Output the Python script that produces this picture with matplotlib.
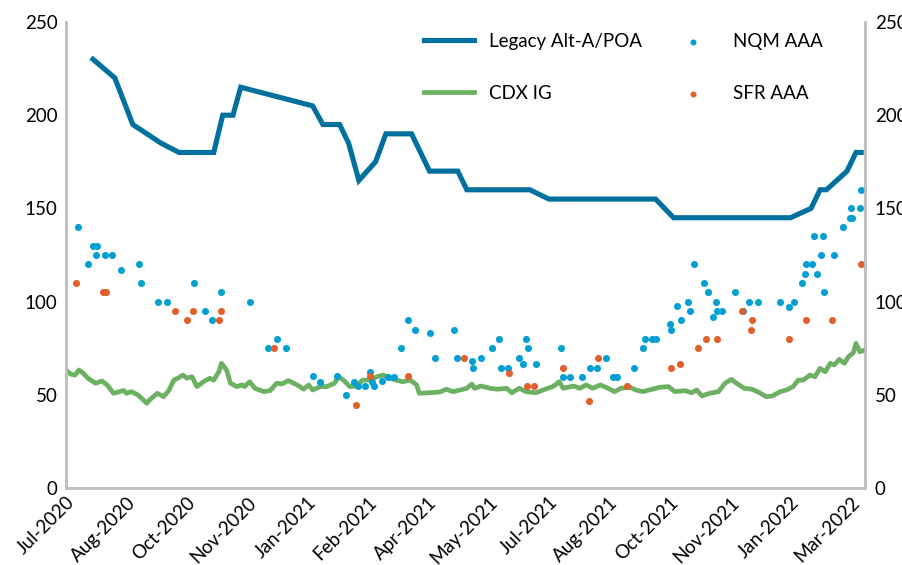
import matplotlib.pyplot as plt
import matplotlib.dates as mdates
import numpy as np
import pandas as pd

plt.rcParams['font.family'] = ['Lato', 'DejaVu Sans']

start = pd.Timestamp('2020-07-01')  # 起始日期, 下面的日期都是距它的天数

# Legacy Alt-A/POA 折线拐点
legacy_day = [21, 38, 52, 74, 88, 115, 122, 130, 136, 192, 200, 213, 220, 228,
              241, 249, 269, 283, 305, 312, 361, 376, 459, 473, 564, 580, 587,
              592, 608, 615, 619]
legacy_val = [230, 220, 195, 185, 180, 180, 200, 200, 215, 205, 195, 195, 185, 165,
              175, 190, 190, 170, 170, 160, 160, 155, 155, 145, 145, 150, 160,
              160, 170, 180, 180]

# CDX IG 读数
cdx_day = [0, 4, 7, 10, 13, 17, 23, 28, 32, 37, 45, 47, 51, 56, 63, 65, 71, 76,
           80, 84, 87, 91, 94, 98, 102, 107, 112, 115, 119, 121, 125, 128, 133,
           137, 139, 143, 147, 154, 159, 164, 168, 173, 180, 185, 189, 192, 198,
           203, 209, 212, 216, 221, 226, 231, 237, 242, 247, 252, 257, 262, 268,
           273, 275, 283, 291, 296, 301, 307, 312, 316, 318, 323, 330, 336, 343,
           347, 353, 358, 366, 373, 379, 384, 387, 395, 400, 405, 410, 416, 422,
           427, 432, 439, 444, 449, 454, 462, 469, 474, 482, 487, 491, 495, 501,
           508, 513, 518, 522, 528, 534, 540, 545, 550, 556, 561, 566, 570, 574,
           579, 583, 587, 591, 595, 598, 602, 606, 609, 613, 615, 618, 622]
cdx_val = [63.1, 61, 60.6, 63.3, 61.9, 58.9, 56.2, 57.4, 55.3, 50.8, 52.3, 50.8,
           51.7, 49.9, 45.5, 47.2, 50.8, 49, 52.3, 57.9, 58.9, 60.6, 58.9, 59.7,
           54.4, 57, 58.9, 57.9, 62.4, 66.9, 63.3, 56.2, 54.4, 55.3, 54.4, 57,
           53.5, 51.7, 52.3, 56.2, 55.8, 57.6, 55.3, 53, 55.3, 52.6, 54.4, 54.4,
           56.2, 59.7, 57.9, 54.4, 54.7, 57.9, 57.9, 59.7, 60.6, 58.9, 57.9, 57,
           57.9, 55.3, 50.8, 51.1, 51.5, 53, 51.7, 52.6, 53.5, 55.8, 53.5, 54.7,
           53.5, 53, 53.5, 51.1, 53.5, 51.7, 51.1, 53, 54.4, 57, 53.5, 54.7, 53.5,
           55.3, 53.5, 55.3, 53.5, 51.7, 53.5, 54, 52.5, 51.7, 52.6, 54, 54.4,
           51.7, 52.2, 51.1, 52.6, 49.4, 50.8, 51.7, 56.2, 58.3, 56.2, 53.5, 53,
           51.1, 49, 49.4, 51.7, 52.6, 54.4, 57.9, 57.9, 60.6, 59.7, 64.2, 62.4,
           66.9, 66, 69, 66.9, 70.4, 72.6, 77.6, 73.1, 74]

# NQM AAA 散点
nqm_day = [9, 17, 21, 24, 23, 30, 36, 43, 57, 58, 72, 79, 100, 108, 114, 121,
           143, 157, 164, 171, 192, 198, 211, 218, 224, 227, 233, 237, 238, 240,
           246, 251, 255, 261, 266, 272, 283, 287, 302, 304, 316, 317, 323, 332,
           337, 339, 344, 353, 356, 358, 360, 366, 385, 387, 392, 402, 408, 413,
           420, 426, 429, 442, 449, 451, 456, 459, 470, 471, 476, 479, 484, 486,
           489, 497, 500, 504, 506, 507, 511, 521, 527, 532, 539, 556, 563, 567,
           573, 575, 576, 581, 582, 585, 589, 588, 590, 598, 605, 610, 612, 611,
           618, 619]
nqm_val = [140, 120, 130, 130, 125, 125, 125, 117, 120, 110, 100, 100, 110, 95, 90, 105,
           100, 75, 80, 75, 60, 57, 60, 50, 57, 54.5, 54.5, 62, 57, 54.5,
           57.5, 59.5, 59.5, 75, 90, 85, 83, 70, 85, 70, 68, 64.5, 70, 75,
           80, 64.5, 64.5, 70, 66.5, 80, 75, 66.5, 75, 59.5, 59.5, 59.5, 64.5, 64.5,
           70, 59.5, 59.5, 64.5, 75, 80, 80, 80, 88, 85, 97.5, 90, 100, 95,
           120, 110, 105, 92, 100, 95, 95, 105, 95, 100, 100, 100, 97, 100,
           110, 115, 120, 120, 135, 115, 135, 125, 105, 125, 140, 145, 145, 150,
           150, 160]

# SFR AAA 散点
sfr_day = [8, 29, 31, 85, 94, 99, 119, 121, 162, 226, 237, 266, 310, 345, 359, 364,
           387, 407, 414, 437, 471, 478, 492, 498, 507, 526, 534, 533, 563, 576,
           596, 619]
sfr_val = [110, 105, 105, 95, 90, 95, 90, 95, 75, 44.5, 60, 60, 70, 61.5, 54.5, 54.5,
           64.5, 46.5, 70, 54.5, 64.5, 66.5, 75, 80, 80, 95, 90, 85, 80, 90,
           90, 120]


def to_date(days):
    return start + pd.to_timedelta(days, unit='D')


fig = plt.figure(figsize=(9.03, 5.65), dpi=100)
ax = fig.add_axes([66 / 903, 77 / 565, 799 / 903, 466 / 565])

ax.plot(to_date(legacy_day), legacy_val, color='#00709f', linewidth=3.7,
        solid_joinstyle='miter', label='Legacy Alt-A/POA', zorder=3)
ax.plot(to_date(cdx_day), cdx_val, color='#6cb062', linewidth=3.4,
        label='CDX IG', zorder=3)
ax.scatter(to_date(nqm_day), nqm_val, s=26, color='#05a0d3', linewidths=0,
           label='NQM AAA', zorder=4)
ax.scatter(to_date(sfr_day), sfr_val, s=26, color='#e2602c', linewidths=0,
           label='SFR AAA', zorder=4)

ax.set_xlim(start, start + pd.Timedelta(days=622))
ax.set_ylim(0, 250)
ax.set_yticks(np.arange(0, 251, 50))

tick_dates = [start + pd.Timedelta(days=47 * i) for i in range(14)]
ax.set_xticks(tick_dates)
ax.xaxis.set_major_formatter(mdates.DateFormatter('%b-%Y'))
plt.setp(ax.get_xticklabels(), rotation=45, ha='right', rotation_mode='anchor')

ax2 = ax.twinx()
ax2.set_ylim(0, 250)
ax2.set_yticks(np.arange(0, 251, 50))

for a in (ax, ax2):
    a.tick_params(length=0, labelsize=13.5, colors='black')
    a.spines['top'].set_visible(False)
    for s in ('left', 'right', 'bottom'):
        a.spines[s].set_color('#bfbfbf')
        a.spines[s].set_linewidth(1.8)
ax.tick_params(axis='y', pad=6)
ax.tick_params(axis='x', pad=4)
ax2.tick_params(axis='y', pad=7)

ax.legend(loc='upper left', bbox_to_anchor=(407 / 903, 1 - 16 / 565),
          bbox_transform=fig.transFigure, ncol=2, frameon=False,
          fontsize=13.5, handlelength=2.7, handletextpad=0.8,
          columnspacing=1.35, labelspacing=1.85, markerscale=0.85)

fig.savefig('out.png', dpi=100)
